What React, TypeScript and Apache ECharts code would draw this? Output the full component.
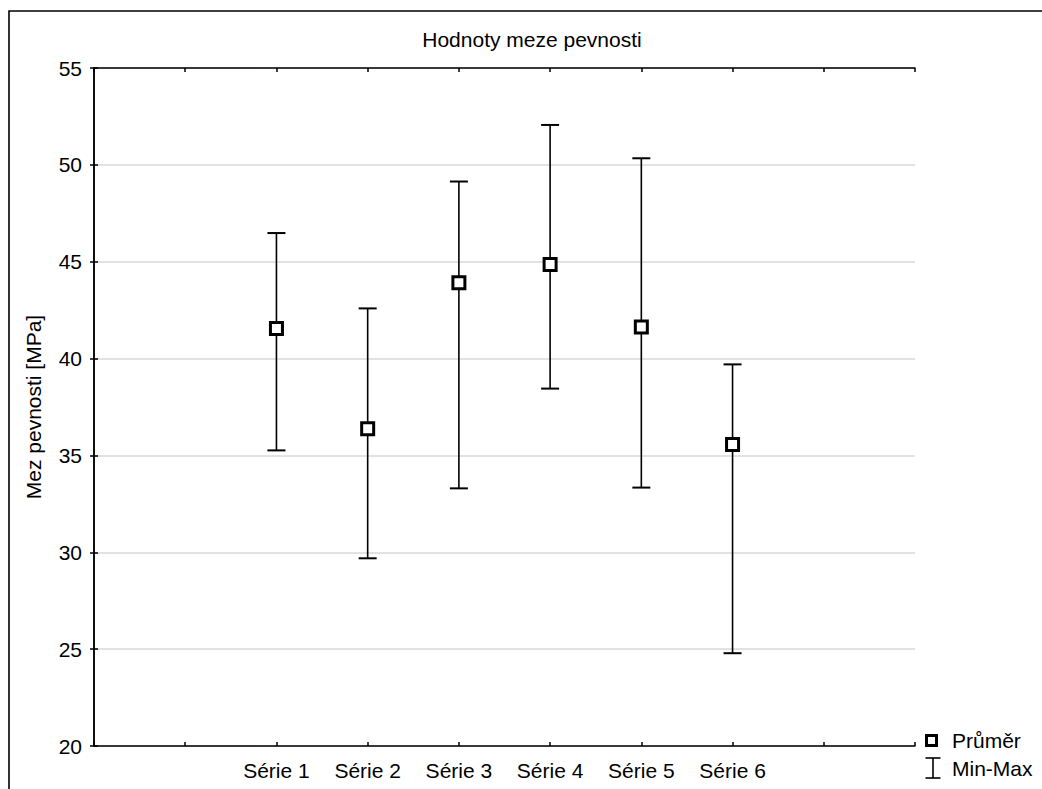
import React, { useEffect, useRef } from "react";
import * as echarts from "echarts";

const title = "Hodnoty meze pevnosti";
const yAxisName = "Mez pevnosti [MPa]";
const categories = ["Série 1", "Série 2", "Série 3", "Série 4", "Série 5", "Série 6"];
const categoryOffset = 2; // first category sits at x = 2 on a 0..9 axis
const meanValues = [41.55, 36.38, 43.92, 44.86, 41.63, 35.56];
const minValues = [35.26, 29.69, 33.3, 38.45, 33.34, 24.79];
const maxValues = [46.48, 42.59, 49.14, 52.06, 50.34, 39.7];
const legendLabels = ["Průměr", "Min-Max"];
const yMin = 20;
const yMax = 55;
const yStep = 5;
const xMin = 0;
const xMax = 9;

const FONT = "Liberation Sans, Arial, Helvetica, sans-serif";

export default function App() {
  const ref = useRef<HTMLDivElement>(null);

  useEffect(() => {
    document.body.style.margin = "0";
    if (!ref.current) return;
    const chart = echarts.init(ref.current, undefined, { renderer: "svg" });

    const positions = categories.map((_, i) => i + categoryOffset);
    const errData = positions.map((p, i) => [p, minValues[i], maxValues[i]]);
    const meanData = positions.map((p, i) => [p, meanValues[i]]);

    const labelFor = (v: number) => {
      const idx = Math.round(v) - categoryOffset;
      return idx >= 0 && idx < categories.length ? categories[idx] : "";
    };

    const axisLine = { show: true, lineStyle: { color: "#000", width: 1.5 } };
    const axisTick = { show: true, inside: true, length: 4, lineStyle: { color: "#000", width: 1.5 } };

    chart.setOption({
      animation: false,
      backgroundColor: "#fff",
      textStyle: { fontFamily: FONT },
      title: {
        text: title,
        left: 532,
        top: 29,
        textAlign: "center",
        padding: 0,
        textStyle: { fontFamily: FONT, fontSize: 21, fontWeight: "normal", color: "#000" },
      },
      grid: { left: 94, top: 68, width: 821, height: 678, containLabel: false },
      xAxis: [
        {
          type: "value",
          min: xMin,
          max: xMax,
          interval: 1,
          position: "bottom",
          axisLine,
          axisTick,
          splitLine: { show: false },
          axisLabel: {
            show: true,
            margin: 14,
            fontFamily: FONT,
            fontSize: 21,
            color: "#000",
            formatter: (v: number) => labelFor(v),
          },
        },
        {
          type: "value",
          min: xMin,
          max: xMax,
          interval: 1,
          position: "top",
          axisLine,
          axisTick,
          splitLine: { show: false },
          axisLabel: { show: false },
        },
      ],
      yAxis: [
        {
          type: "value",
          min: yMin,
          max: yMax,
          interval: yStep,
          position: "left",
          name: yAxisName,
          nameLocation: "middle",
          nameGap: 50,
          nameRotate: 90,
          nameTextStyle: { fontFamily: FONT, fontSize: 21, color: "#000" },
          axisLine,
          axisTick,
          splitLine: { show: true, lineStyle: { color: "#d9d9d9", width: 1.5 } },
          axisLabel: { margin: 12, fontFamily: FONT, fontSize: 21, color: "#000" },
        },
        {
          type: "value",
          min: yMin,
          max: yMax,
          interval: yStep,
          position: "right",
          axisLine,
          axisTick,
          splitLine: { show: false },
          axisLabel: { show: false },
        },
      ],
      series: [
        {
          type: "custom",
          name: legendLabels[1],
          xAxisIndex: 0,
          yAxisIndex: 0,
          data: errData,
          z: 2,
          renderItem: (params: any, api: any) => {
            const x = api.value(0);
            const lo = api.coord([x, api.value(1)]);
            const hi = api.coord([x, api.value(2)]);
            const half = 9;
            const style = { stroke: "#000", lineWidth: 1.6 };
            return {
              type: "group",
              children: [
                { type: "line", shape: { x1: lo[0], y1: lo[1], x2: hi[0], y2: hi[1] }, style },
                { type: "line", shape: { x1: lo[0] - half, y1: lo[1], x2: lo[0] + half, y2: lo[1] }, style: { stroke: "#000", lineWidth: 2 } },
                { type: "line", shape: { x1: hi[0] - half, y1: hi[1], x2: hi[0] + half, y2: hi[1] }, style: { stroke: "#000", lineWidth: 2 } },
              ],
            };
          },
        },
        {
          type: "scatter",
          name: legendLabels[0],
          xAxisIndex: 0,
          yAxisIndex: 0,
          data: meanData,
          symbol: "rect",
          symbolSize: 12,
          z: 5,
          itemStyle: { color: "#fff", borderColor: "#000", borderWidth: 3, opacity: 1 },
        },
      ],
      graphic: [
        {
          type: "rect",
          shape: { x: 9, y: 11, width: 1200, height: 1000 },
          style: { fill: "none", stroke: "#000", lineWidth: 1.6 },
          silent: true,
          z: -10,
        },
        {
          type: "rect",
          shape: { x: 926.5, y: 735.5, width: 10, height: 10 },
          style: { fill: "#fff", stroke: "#000", lineWidth: 3 },
        },
        {
          type: "text",
          style: { text: legendLabels[0], x: 952, y: 740, textVerticalAlign: "middle", fontFamily: FONT, fontSize: 21, fill: "#000" },
        },
        {
          type: "line",
          shape: { x1: 933, y1: 758, x2: 933, y2: 778 },
          style: { stroke: "#000", lineWidth: 1.6 },
        },
        {
          type: "line",
          shape: { x1: 925.5, y1: 758, x2: 940.5, y2: 758 },
          style: { stroke: "#000", lineWidth: 1.6 },
        },
        {
          type: "line",
          shape: { x1: 925.5, y1: 778, x2: 940.5, y2: 778 },
          style: { stroke: "#000", lineWidth: 1.6 },
        },
        {
          type: "text",
          style: { text: legendLabels[1], x: 952, y: 768, textVerticalAlign: "middle", fontFamily: FONT, fontSize: 21, fill: "#000" },
        },
      ],
    });

    return () => chart.dispose();
  }, []);

  return <div ref={ref} style={{ width: 1042, height: 789 }} />;
}
